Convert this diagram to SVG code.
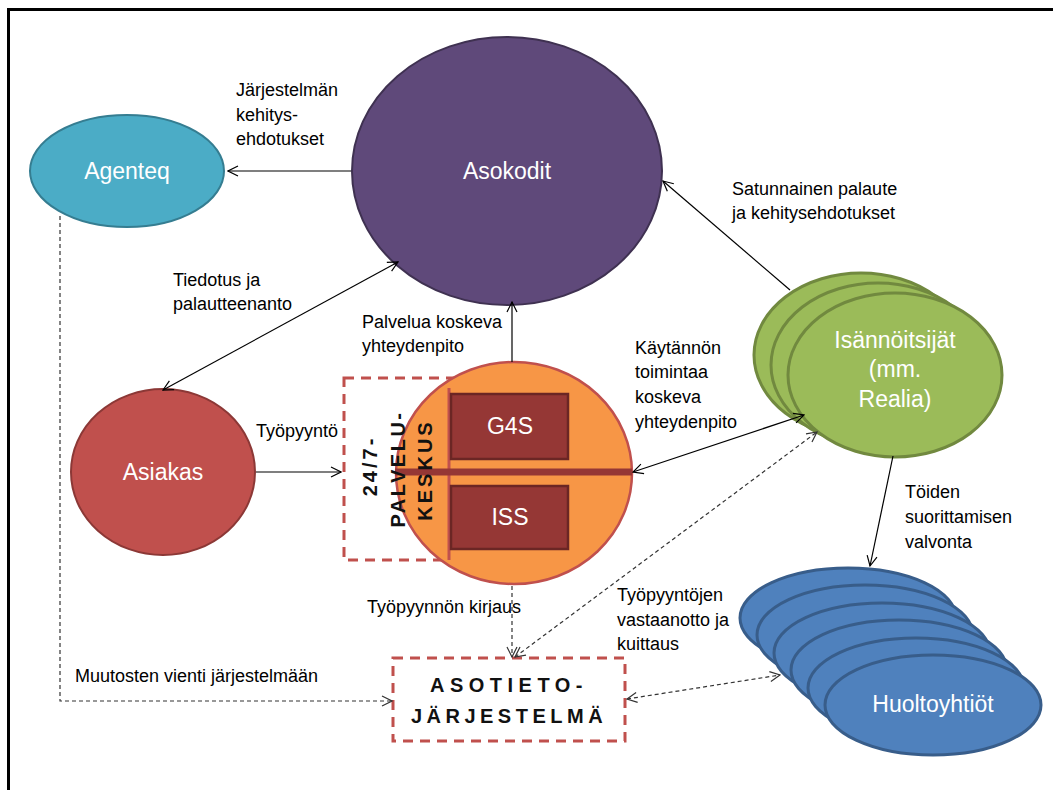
<svg xmlns="http://www.w3.org/2000/svg" width="1053" height="790" viewBox="0 0 1053 790">
  <defs>
    <marker id="arrow" viewBox="0 0 12 12" refX="11" refY="6" markerWidth="12" markerHeight="12" markerUnits="userSpaceOnUse" orient="auto-start-reverse">
      <path d="M1,1 L11,6 L1,11" fill="none" stroke="#000" stroke-width="1.2"/>
    </marker>
    <marker id="arrowGray" viewBox="0 0 12 12" refX="11" refY="6" markerWidth="12" markerHeight="12" markerUnits="userSpaceOnUse" orient="auto-start-reverse">
      <path d="M1,1 L11,6 L1,11" fill="none" stroke="#333" stroke-width="1.2"/>
    </marker>
  </defs>
  <style>
    .lbl { font-family: "Liberation Sans", Arial, sans-serif; font-size: 18px; fill: #000; }
    .node-txt { font-family: "Liberation Sans", Arial, sans-serif; font-size: 23px; fill: #fff; text-anchor: middle; }
    .box-txt { font-family: "Liberation Sans", Arial, sans-serif; font-size: 20px; font-weight: bold; fill: #111; text-anchor: middle; }
    .solid { fill: none; stroke: #000; stroke-width: 1.2; marker-end: url(#arrow); }
    .both { marker-start: url(#arrow); }
    .dash { fill: none; stroke: #333; stroke-width: 1.2; stroke-dasharray: 4 3; marker-end: url(#arrowGray); }
    .dboth { marker-start: url(#arrowGray); }
    .redbox { fill: none; stroke: #C0504D; stroke-width: 3; stroke-dasharray: 10 7; }
    .green { fill: #9BBB59; stroke: #71893F; stroke-width: 3; }
    .blue { fill: #4F81BD; stroke: #385D8A; stroke-width: 3; }
  </style>

  <rect width="1053" height="790" fill="#fff"/>
  <!-- page frame -->
  <path d="M8.5,790 L8.5,9.5 L1053,9.5" fill="none" stroke="#000" stroke-width="3"/>

  <!-- Asokodit -->
  <g id="asokodit">
    <ellipse cx="507" cy="171" rx="155" ry="134" fill="#5F497A" stroke="#3F3151" stroke-width="2"/>
    <text class="node-txt" x="507" y="179">Asokodit</text>
  </g>

  <!-- Agenteq -->
  <g id="agenteq">
    <ellipse cx="127" cy="171" rx="97" ry="56" fill="#4BACC6" stroke="#357D91" stroke-width="2"/>
    <text class="node-txt" x="127" y="179">Agenteq</text>
  </g>

  <!-- Asiakas -->
  <g id="asiakas">
    <ellipse cx="163" cy="472" rx="92" ry="83" fill="#C0504D" stroke="#8C3836" stroke-width="2"/>
    <text class="node-txt" x="163" y="480">Asiakas</text>
  </g>

  <!-- 24/7 palvelukeskus -->
  <g id="palvelukeskus">
    <rect class="redbox" x="344" y="378" width="120" height="182"/>
    <ellipse cx="514" cy="473" rx="118" ry="111" fill="#F79646" stroke="#C0504D" stroke-width="2.5"/>
    <line x1="449" y1="388" x2="449" y2="560" stroke="#C0504D" stroke-width="3"/>
    <line x1="395" y1="472" x2="632" y2="472" stroke="#953735" stroke-width="7"/>
    <rect x="451" y="394" width="117" height="65" fill="#953735" stroke="#6B2624" stroke-width="2.5"/>
    <rect x="451" y="486" width="117" height="63" fill="#953735" stroke="#6B2624" stroke-width="2.5"/>
    <text class="node-txt" x="510" y="434">G4S</text>
    <text class="node-txt" x="510" y="525">ISS</text>
    <text class="box-txt" transform="translate(377,466) rotate(-90)" letter-spacing="3">24/7-</text>
    <text class="box-txt" transform="translate(405,469) rotate(-90)" letter-spacing="2.5">PALVELU-</text>
    <text class="box-txt" transform="translate(432,470) rotate(-90)" letter-spacing="3">KESKUS</text>
  </g>

  <!-- Asotietojärjestelmä -->
  <g id="asotieto">
    <rect class="redbox" x="393" y="658" width="232" height="83"/>
    <text class="box-txt" x="509" y="692" font-size="21" letter-spacing="5.5">ASOTIETO-</text>
    <text class="box-txt" x="509" y="723" font-size="21" letter-spacing="4.5">JÄRJESTELMÄ</text>
  </g>

  <!-- Isännöitsijät (stack) -->
  <g id="isannoitsijat">
    <ellipse class="green" cx="861" cy="355" rx="107" ry="82"/>
    <ellipse class="green" cx="878" cy="365" rx="107" ry="82"/>
    <ellipse class="green" cx="895" cy="375" rx="107" ry="82"/>
    <text class="node-txt" x="895" y="348">Isännöitsijät</text>
    <text class="node-txt" x="895" y="377">(mm.</text>
    <text class="node-txt" x="895" y="407">Realia)</text>
  </g>

  <!-- Huoltoyhtiöt (stack) -->
  <g id="huoltoyhtiot">
    <ellipse class="blue" cx="848" cy="618" rx="108" ry="50"/>
    <ellipse class="blue" cx="865" cy="635" rx="108" ry="50"/>
    <ellipse class="blue" cx="882" cy="653" rx="108" ry="50"/>
    <ellipse class="blue" cx="899" cy="670" rx="108" ry="50"/>
    <ellipse class="blue" cx="916" cy="688" rx="108" ry="50"/>
    <ellipse class="blue" cx="933" cy="705" rx="108" ry="50"/>
    <text class="node-txt" x="933" y="712">Huoltoyhtiöt</text>
  </g>

  <!-- connectors -->
  <g id="connectors">
    <path class="solid" d="M351,171 L228,171"/>
    <path class="solid both" d="M398,262 L163,390"/>
    <path class="solid" d="M512,362 L512,302"/>
    <path class="solid" d="M256,472 L341,472"/>
    <path class="solid" d="M790,290 L663,181"/>
    <path class="solid both" d="M633,472 L804,415"/>
    <path class="solid" d="M893,456 L870,566"/>
    <path class="dash" d="M60,216 L60,701 L392,701"/>
    <path class="dash" d="M512,586 L512,657"/>
    <path class="dash dboth" d="M515,657 L817,432"/>
    <path class="dash dboth" d="M627,699 L780,675"/>
  </g>

  <!-- connector labels -->
  <g id="labels">
    <text class="lbl" x="236" y="96">Järjestelmän</text>
    <text class="lbl" x="236" y="121">kehitys-</text>
    <text class="lbl" x="236" y="145">ehdotukset</text>
    <text class="lbl" x="173" y="286">Tiedotus ja</text>
    <text class="lbl" x="173" y="310">palautteenanto</text>
    <text class="lbl" x="362" y="328">Palvelua koskeva</text>
    <text class="lbl" x="362" y="352">yhteydenpito</text>
    <text class="lbl" x="256" y="437">Työpyyntö</text>
    <text class="lbl" x="732" y="195">Satunnainen palaute</text>
    <text class="lbl" x="732" y="219">ja kehitysehdotukset</text>
    <text class="lbl" x="635" y="354">Käytännön</text>
    <text class="lbl" x="635" y="378">toimintaa</text>
    <text class="lbl" x="635" y="403">koskeva</text>
    <text class="lbl" x="635" y="428">yhteydenpito</text>
    <text class="lbl" x="905" y="498">Töiden</text>
    <text class="lbl" x="905" y="523">suorittamisen</text>
    <text class="lbl" x="905" y="548">valvonta</text>
    <text class="lbl" x="367" y="613">Työpyynnön kirjaus</text>
    <text class="lbl" x="617" y="601">Työpyyntöjen</text>
    <text class="lbl" x="617" y="626">vastaanotto ja</text>
    <text class="lbl" x="617" y="650">kuittaus</text>
    <text class="lbl" x="75" y="682">Muutosten vienti järjestelmään</text>
  </g>
</svg>
